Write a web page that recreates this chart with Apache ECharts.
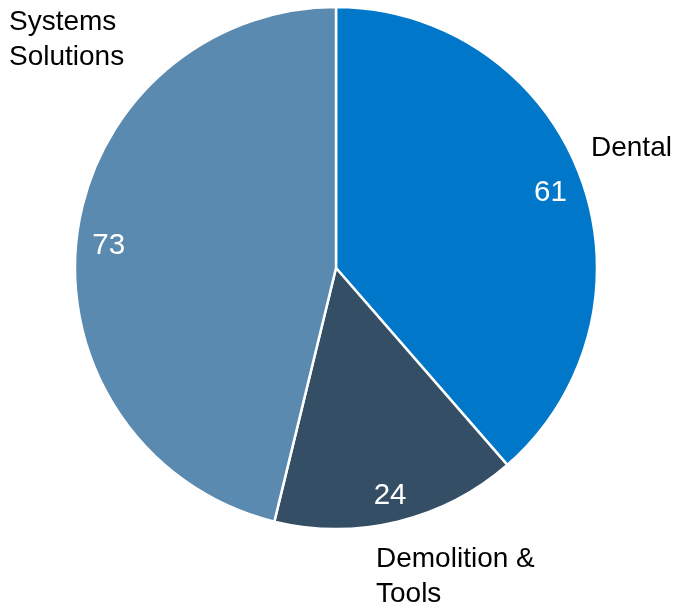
<!DOCTYPE html>
<html>
<head>
<meta charset="utf-8">
<script src="https://cdn.jsdelivr.net/npm/echarts@6/dist/echarts.min.js"></script>
<style>
html,body{margin:0;padding:0;background:#fff;}
#chart{width:676px;height:608px;}
</style>
</head>
<body>
<div id="chart"></div>
<script>
const categories = ['Dental', 'Demolition &\nTools', 'Systems\nSolutions'];
const values = [61, 24, 73];
const colors = ['#0077C8', '#334E65', '#5A8AAF'];

const namePos = [
  {x: 591, y: 148},
  {x: 376, y: 577},
  {x: 9, y: 40}
];

const chart = echarts.init(document.getElementById('chart'), null, {renderer: 'canvas'});
const data = categories.map((c, i) => ({name: c, value: values[i], itemStyle: {color: colors[i]}}));
const FONT = '"Liberation Sans", Arial, sans-serif';

chart.setOption({
  animation: false,
  backgroundColor: '#fff',
  series: [
    {
      type: 'pie',
      center: [336, 268],
      radius: [0, 261],
      startAngle: 90,
      clockwise: true,
      silent: true,
      avoidLabelOverlap: false,
      itemStyle: {borderColor: '#fff', borderWidth: 2.5},
      label: {
        show: true,
        position: 'outside',
        formatter: '{b}',
        color: '#000',
        fontSize: 28,
        lineHeight: 35,
        fontFamily: FONT,
        overflow: 'none',
        width: 300
      },
      labelLine: {show: false},
      labelLayout: function (p) {
        const pos = namePos[p.dataIndex];
        return {x: pos.x, y: pos.y, align: 'left', verticalAlign: 'middle', hideOverlap: false};
      },
      data: data
    },
    {
      type: 'pie',
      center: [336, 273],
      radius: [198, 254],
      startAngle: 90,
      clockwise: true,
      silent: true,
      itemStyle: {color: 'rgba(0,0,0,0)', borderWidth: 0},
      label: {
        show: true,
        position: 'inside',
        formatter: '{c}',
        color: '#fff',
        fontSize: 29.5,
        fontFamily: FONT
      },
      labelLine: {show: false},
      data: categories.map((c, i) => ({name: c, value: values[i]}))
    }
  ]
});
</script>
</body>
</html>
